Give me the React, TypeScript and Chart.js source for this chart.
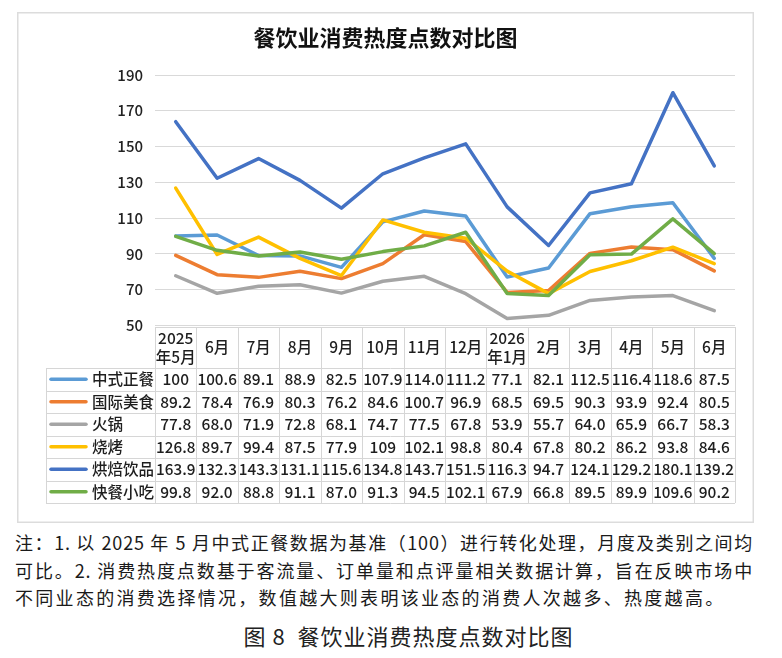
import React, { useEffect, useRef } from "react";
import { Chart, registerables } from "chart.js";

Chart.register(...registerables);

const months = ["2025\n年5月", "6月", "7月", "8月", "9月", "10月", "11月", "12月", "2026\n年1月", "2月", "3月", "4月", "5月", "6月"];
const seriesNames = ["中式正餐", "国际美食", "火锅", "烧烤", "烘焙饮品", "快餐小吃"];
const zhongshi = ["100", "100.6", "89.1", "88.9", "82.5", "107.9", "114.0", "111.2", "77.1", "82.1", "112.5", "116.4", "118.6", "87.5"];
const guoji = ["89.2", "78.4", "76.9", "80.3", "76.2", "84.6", "100.7", "96.9", "68.5", "69.5", "90.3", "93.9", "92.4", "80.5"];
const huoguo = ["77.8", "68.0", "71.9", "72.8", "68.1", "74.7", "77.5", "67.8", "53.9", "55.7", "64.0", "65.9", "66.7", "58.3"];
const shaokao = ["126.8", "89.7", "99.4", "87.5", "77.9", "109", "102.1", "98.8", "80.4", "67.8", "80.2", "86.2", "93.8", "84.6"];
const hongbei = ["163.9", "132.3", "143.3", "131.1", "115.6", "134.8", "143.7", "151.5", "116.3", "94.7", "124.1", "129.2", "180.1", "139.2"];
const kuaican = ["99.8", "92.0", "88.8", "91.1", "87.0", "91.3", "94.5", "102.1", "67.9", "66.8", "89.5", "89.9", "109.6", "90.2"];
const seriesValues = [zhongshi, guoji, huoguo, shaokao, hongbei, kuaican];
const seriesColors = ["#5B9BD5", "#ED7D31", "#A5A5A5", "#FFC000", "#4472C4", "#70AD47"];
const yMin = 50;
const yMax = 190;
const yStep = 20;

const chartTitle = "餐饮业消费热度点数对比图";
const noteLines = [
  "注：1. 以 2025 年 5 月中式正餐数据为基准（100）进行转化处理，月度及类别之间均",
  "可比。2. 消费热度点数基于客流量、订单量和点评量相关数据计算，旨在反映市场中",
  "不同业态的消费选择情况，数值越大则表明该业态的消费人次越多、热度越高。",
];
const caption = "图 8  餐饮业消费热度点数对比图";

const FONT = '"Noto Sans CJK SC", "Noto Sans", sans-serif';

const CW = 737;
const CH = 511;

const framePlugin = {
  id: "frameAndTable",
  beforeDraw(chart: any) {
    const ctx = chart.ctx;
    ctx.save();
    ctx.fillStyle = "#ffffff";
    ctx.fillRect(0, 0, CW, CH);
    ctx.strokeStyle = "#dcdcdc";
    ctx.lineWidth = 1.5;
    ctx.strokeRect(0.75, 0.75, CW - 1.5, CH - 1.5);
    ctx.fillStyle = "#111111";
    ctx.font = `bold 22px ${FONT}`;
    ctx.textAlign = "center";
    ctx.textBaseline = "middle";
    ctx.fillText(chartTitle, CW / 2, 26);
    ctx.restore();
  },
  afterDraw(chart: any) {
    const ctx = chart.ctx;
    const xs = chart.scales.x;
    const n = months.length;
    const w = (xs.right - xs.left) / n;
    const headTop = 315;
    const headBot = 356;
    const rowH = 22.5;
    const legLeft = 29;
    const tableRight = xs.left + w * n;
    const tableBot = headBot + rowH * seriesNames.length;
    ctx.save();
    ctx.strokeStyle = "#d6d6d6";
    ctx.lineWidth = 1;
    const hline = (y: number, x1: number, x2: number) => {
      ctx.beginPath();
      ctx.moveTo(x1, Math.round(y) + 0.5);
      ctx.lineTo(x2, Math.round(y) + 0.5);
      ctx.stroke();
    };
    const vline = (x: number, y1: number, y2: number) => {
      ctx.beginPath();
      ctx.moveTo(Math.round(x) + 0.5, y1);
      ctx.lineTo(Math.round(x) + 0.5, y2);
      ctx.stroke();
    };
    hline(headTop, xs.left, tableRight);
    for (let r = 0; r <= seriesNames.length; r++) {
      hline(headBot + r * rowH, legLeft, tableRight);
    }
    vline(legLeft, headBot, tableBot);
    for (let i = 0; i <= n; i++) {
      vline(xs.left + i * w, headTop, tableBot);
    }
    ctx.fillStyle = "#1e1e1e";
    ctx.textAlign = "center";
    ctx.textBaseline = "middle";
    ctx.font = `500 15.5px ${FONT}`;
    months.forEach((m, i) => {
      const cx = xs.getPixelForValue(i);
      const parts = m.split("\n");
      if (parts.length === 2) {
        ctx.fillText(parts[0], cx, 326);
        ctx.fillText(parts[1], cx, 345);
      } else {
        ctx.fillText(parts[0], cx, 335.5);
      }
    });
    seriesNames.forEach((name, r) => {
      const cy = headBot + r * rowH + rowH / 2;
      ctx.strokeStyle = seriesColors[r];
      ctx.lineWidth = 3.5;
      ctx.lineCap = "round";
      ctx.beginPath();
      ctx.moveTo(34, cy);
      ctx.lineTo(69, cy);
      ctx.stroke();
      ctx.textAlign = "left";
      ctx.fillText(name, 75, cy);
      ctx.textAlign = "center";
      seriesValues[r].forEach((v, i) => {
        ctx.fillText(v, xs.getPixelForValue(i), cy, w - 2);
      });
    });
    ctx.restore();
  },
};

function ChartBox() {
  const ref = useRef<HTMLCanvasElement>(null);
  useEffect(() => {
    if (!ref.current) return;
    const chart = new Chart(ref.current, {
      type: "line",
      data: {
        labels: months,
        datasets: seriesNames.map((name, i) => ({
          label: name,
          data: seriesValues[i].map((v) => Number(v)),
          borderColor: seriesColors[i],
          backgroundColor: seriesColors[i],
          borderWidth: 3.5,
          pointRadius: 0,
          tension: 0,
          order: seriesNames.length - i,
          borderCapStyle: "round",
          borderJoinStyle: "round",
        })),
      },
      options: {
        responsive: false,
        animation: false,
        devicePixelRatio: 1,
        layout: { padding: { left: 0, right: 19, top: 63, bottom: 197.5 } },
        plugins: {
          legend: { display: false },
          tooltip: { enabled: false },
          title: { display: false },
        },
        scales: {
          x: {
            type: "category",
            display: false,
            offset: true,
          },
          y: {
            min: yMin,
            max: yMax,
            ticks: {
              stepSize: yStep,
              padding: 12,
              color: "#222222",
              font: { family: FONT, size: 15, weight: "500" },
            },
            grid: { color: "#d9d9d9", lineWidth: 1, drawTicks: false },
            border: { display: false },
            afterFit: (scale: any) => {
              scale.width = 138;
            },
          },
        },
      },
      plugins: [framePlugin],
    } as any);
    return () => chart.destroy();
  }, []);
  return (
    <canvas
      ref={ref}
      width={CW}
      height={CH}
      style={{ position: "absolute", left: 9, top: 4, width: CW, height: CH }}
    />
  );
}

export default function App() {
  return (
    <div style={{ position: "relative", width: 766, height: 642, fontFamily: FONT }}>
      <ChartBox />
      <div style={{ position: "absolute", left: 7, top: 521, width: 738, fontSize: 18, lineHeight: "27.5px", color: "#1a1a1a" }}>
        {noteLines.map((l, i) => (
          <div
            key={i}
            style={{
              whiteSpace: "nowrap",
              letterSpacing: i < 2 ? "0.8px" : "2.3px",
              textAlign: i < 2 ? "justify" : "left",
              textAlignLast: i < 2 ? "justify" : "left",
            } as any}
          >
            {l}
          </div>
        ))}
      </div>
      <div style={{ position: "absolute", left: 0, width: 801, top: 612, lineHeight: "30px", fontSize: 22, fontWeight: 400, letterSpacing: "1px", color: "#222222", textAlign: "center", whiteSpace: "pre" }}>
        {caption}
      </div>
    </div>
  );
}
